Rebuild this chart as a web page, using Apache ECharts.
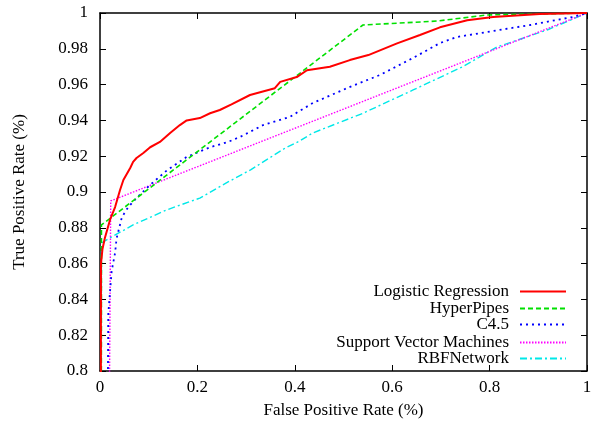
<!DOCTYPE html>
<html>
<head>
<meta charset="utf-8">
<script src="https://cdn.jsdelivr.net/npm/echarts@6/dist/echarts.min.js"></script>
<style>html,body{margin:0;padding:0;background:#fff}#c{width:596px;height:424px}</style>
</head>
<body>
<div id="c"></div>
<script>
const seriesNames = ['Logistic Regression', 'HyperPipes', 'C4.5', 'Support Vector Machines', 'RBFNetwork'];
const xTicks = [0, 0.2, 0.4, 0.6, 0.8, 1];
const yTicks = [0.8, 0.82, 0.84, 0.86, 0.88, 0.9, 0.92, 0.94, 0.96, 0.98, 1];

const logisticRegression = [[0,0],[0.002,0.86],[0.005,0.868],[0.010,0.8743],[0.0205,0.8844],[0.031,0.8916],[0.041,0.901],[0.048,0.9067],[0.062,0.9134],[0.068,0.9168],[0.075,0.919],[0.089,0.9218],[0.103,0.925],[0.123,0.928],[0.144,0.933],[0.164,0.9374],[0.178,0.940],[0.205,0.9413],[0.226,0.944],[0.246,0.9458],[0.270,0.949],[0.308,0.9542],[0.359,0.958],[0.370,0.9615],[0.404,0.9642],[0.425,0.968],[0.472,0.970],[0.513,0.9737],[0.551,0.9765],[0.610,0.983],[0.657,0.9877],[0.698,0.992],[0.754,0.996],[0.807,0.9978],[0.903,0.9994],[1,1]];
const hyperPipes = [[0,0],[0.003,0.8816],[0.54,0.9933],[0.692,0.9955],[0.795,0.9989],[1,1]];
const c45 = [[0,0],[0.017,0.832],[0.024,0.856],[0.031,0.866],[0.034,0.874],[0.045,0.886],[0.058,0.8916],[0.075,0.8966],[0.103,0.904],[0.137,0.912],[0.178,0.9196],[0.226,0.925],[0.263,0.928],[0.287,0.9307],[0.335,0.9374],[0.390,0.942],[0.437,0.9497],[0.507,0.958],[0.575,0.9654],[0.643,0.9749],[0.698,0.9832],[0.733,0.9866],[0.795,0.9894],[0.883,0.9933],[0.971,0.9978],[1,1]];
const svm = [[0,0],[0.022,0.895],[1,1]];
const rbfNetwork = [[0,0],[0.003,0.8715],[0.020,0.8743],[0.068,0.8816],[0.137,0.890],[0.205,0.8966],[0.263,0.9056],[0.310,0.9125],[0.380,0.9245],[0.410,0.9285],[0.437,0.933],[0.540,0.944],[0.643,0.957],[0.745,0.970],[0.815,0.981],[0.918,0.9905],[1,1]];

const dataSets = [logisticRegression, hyperPipes, c45, svm, rbfNetwork];
const colors = ['#ff0000', '#00e000', '#0000ff', '#ff00ff', '#00e8e8'];
const dashes = ['solid', [5, 3], [2, 4], [1.5, 1.5], [7, 3, 2, 3]];
const widths = [2, 1.6, 1.8, 1.4, 1.4];

const font = "'Liberation Serif','Times New Roman',serif";
const chart = echarts.init(document.getElementById('c'), null, {renderer: 'canvas'});

const baseX = {
  type: 'value', min: xTicks[0], max: xTicks[xTicks.length - 1], interval: 0.2,
  splitLine: {show: false},
  axisLine: {show: true, onZero: false, lineStyle: {color: '#000', width: 1.5}},
  axisTick: {show: true, inside: true, length: 6, lineStyle: {color: '#000', width: 1}}
};
const baseY = {
  type: 'value', min: yTicks[0], max: yTicks[yTicks.length - 1], interval: 0.02,
  splitLine: {show: false},
  axisLine: {show: true, onZero: false, lineStyle: {color: '#000', width: 1.5}},
  axisTick: {show: true, inside: true, length: 6, lineStyle: {color: '#000', width: 1}}
};

const legendRowsTop = [283, 300, 316, 334, 350];
const legends = seriesNames.map((n, i) => ({
  data: [n], right: 29, top: legendRowsTop[i], orient: 'vertical', align: 'right',
  itemWidth: 46, itemHeight: 14, itemGap: 0, padding: 0,
  itemStyle: {opacity: 0},
  textStyle: {fontFamily: font, fontSize: 17, color: '#000', padding: [0, 6, 0, 0]}
}));

chart.setOption({
  animation: false,
  backgroundColor: '#fff',
  grid: {left: 100, right: 9, top: 13, bottom: 53},
  legend: legends,
  xAxis: [
    Object.assign({}, baseX, {
      position: 'bottom', name: 'False Positive Rate (%)', nameLocation: 'middle', nameGap: 31,
      nameTextStyle: {fontFamily: font, fontSize: 17, color: '#000'},
      axisLabel: {fontFamily: font, fontSize: 17, color: '#000', margin: 8}
    }),
    Object.assign({}, baseX, {position: 'top', axisLabel: {show: false}})
  ],
  yAxis: [
    Object.assign({}, baseY, {
      position: 'left', name: 'True Positive Rate (%)', nameLocation: 'middle', nameGap: 72,
      nameTextStyle: {fontFamily: font, fontSize: 17, color: '#000'},
      axisLabel: {fontFamily: font, fontSize: 17, color: '#000', margin: 12}
    }),
    Object.assign({}, baseY, {position: 'right', axisLabel: {show: false}})
  ],
  series: seriesNames.map((n, i) => ({
    name: n, type: 'line', data: dataSets[i], xAxisIndex: 0, yAxisIndex: 0,
    symbol: 'none', clip: true, z: 10 - i,
    itemStyle: {color: colors[i]},
    lineStyle: {color: colors[i], width: widths[i], type: dashes[i]}
  }))
});
</script>
</body>
</html>
